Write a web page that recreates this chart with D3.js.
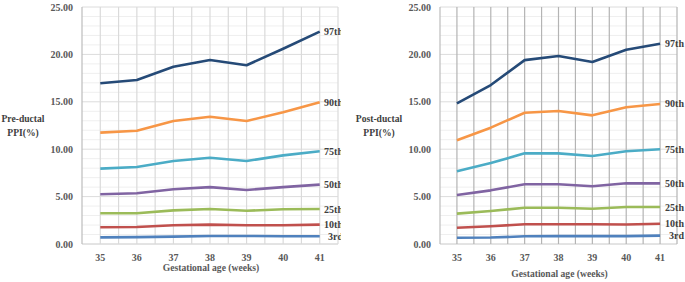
<!DOCTYPE html>
<html lang="en">
<head>
    <meta charset="UTF-8">
    <title>PPI percentiles by gestational age</title>
    <script src="https://d3js.org/d3.v7.min.js"></script>
    <style>
        body { margin: 0; background: #fff; }
        svg text { font-family: "Liberation Serif", "Times New Roman", serif; font-weight: bold; }
    </style>
</head>
<body>
    <svg id="chart" width="685" height="282"></svg>
    <script>
        // data
        const weeks = [35, 36, 37, 38, 39, 40, 41];
        const percentiles = ["97th", "90th", "75th", "50th", "25th", "10th", "3rd"];
        const colors = ["#254a77", "#f79646", "#4bacc6", "#8064a2", "#9bbb59", "#c0504d", "#4f81bd"];
        const yTicks = [0, 5, 10, 15, 20, 25];

        const preDuctal = [
            [16.95, 17.3, 18.7, 19.4, 18.85, 20.6, 22.4],
            [11.75, 11.95, 12.97, 13.43, 12.97, 13.9, 14.95],
            [7.95, 8.12, 8.76, 9.1, 8.76, 9.35, 9.78],
            [5.24, 5.35, 5.77, 6.0, 5.7, 6.0, 6.26],
            [3.24, 3.24, 3.55, 3.69, 3.5, 3.67, 3.69],
            [1.76, 1.8, 1.97, 2.04, 1.97, 1.97, 2.04],
            [0.7, 0.72, 0.78, 0.85, 0.85, 0.82, 0.82]
        ];
        const postDuctal = [
            [14.84, 16.77, 19.4, 19.83, 19.2, 20.5, 21.13],
            [10.94, 12.27, 13.85, 14.03, 13.57, 14.42, 14.77],
            [7.67, 8.54, 9.56, 9.56, 9.28, 9.78, 9.99],
            [5.17, 5.66, 6.3, 6.3, 6.09, 6.4, 6.4],
            [3.2, 3.48, 3.83, 3.83, 3.72, 3.9, 3.9],
            [1.72, 1.87, 2.08, 2.08, 2.08, 2.05, 2.14],
            [0.66, 0.68, 0.81, 0.83, 0.83, 0.83, 0.88]
        ];

        const svg = d3.select("#chart");

        const panels = [
            { data: preDuctal, title: ["Pre-ductal", "PPI(%)"], left: 82, right: 338, titleX: 23,
              xTitleY: 267.5, labelEnd: 343, clip: 341, vGrid: "#dadada" },
            { data: postDuctal, title: ["Post-ductal", "PPI(%)"], left: 440, right: 677, titleX: 379,
              xTitleY: 274, labelEnd: 684, clip: 685, vGrid: "#b4b4b4" }
        ];

        panels.forEach((p, pi) => {
            const g = svg.append("g");
            const x = d3.scaleBand().domain(weeks).range([p.left, p.right]).padding(0);
            const y = d3.scaleLinear().domain([0, 25]).range([244, 7]);

            // minor horizontal grid
            g.append("g").selectAll("line")
                .data(d3.range(0, 26).filter(v => v % 5 !== 0))
                .join("line")
                .attr("x1", p.left).attr("x2", p.right)
                .attr("y1", d => y(d)).attr("y2", d => y(d))
                .attr("stroke", "#efefef").attr("stroke-width", 1);

            // major horizontal grid
            g.append("g").selectAll("line")
                .data(yTicks)
                .join("line")
                .attr("x1", p.left).attr("x2", p.right)
                .attr("y1", d => y(d)).attr("y2", d => y(d))
                .attr("stroke", d => d === 0 ? "#c8c8c8" : "#dcdcdc").attr("stroke-width", 1);

            // vertical grid: band edges and centres
            const vx = [];
            weeks.forEach(w => { vx.push(x(w)); vx.push(x(w) + x.bandwidth() / 2); });
            vx.push(p.right);
            g.append("g").selectAll("line")
                .data(vx)
                .join("line")
                .attr("x1", d => d).attr("x2", d => d)
                .attr("y1", y(25)).attr("y2", y(0))
                .attr("stroke", (d, i) => i === 0 ? "#bdbdbd" : p.vGrid).attr("stroke-width", 1.2);

            // y tick labels
            g.append("g").selectAll("text")
                .data(yTicks)
                .join("text")
                .attr("x", p.left - 9).attr("y", d => y(d))
                .attr("dy", "0.35em").attr("text-anchor", "end")
                .attr("font-size", 10).attr("fill", "#595959")
                .text(d => d3.format(".2f")(d));

            // x tick labels
            g.append("g").selectAll("text")
                .data(weeks)
                .join("text")
                .attr("x", d => x(d) + x.bandwidth() / 2).attr("y", 257)
                .attr("dy", "0.35em").attr("text-anchor", "middle")
                .attr("font-size", 10).attr("fill", "#595959")
                .text(d => d);

            g.append("text")
                .attr("x", (p.left + p.right) / 2 + 1).attr("y", p.xTitleY)
                .attr("dy", "0.35em").attr("text-anchor", "middle")
                .attr("font-size", 9.6).attr("fill", "#595959")
                .text("Gestational age (weeks)");

            g.append("text")
                .attr("x", p.titleX).attr("y", 119)
                .attr("text-anchor", "middle").attr("font-size", 9.6).attr("fill", "#404040")
                .selectAll("tspan")
                .data(p.title)
                .join("tspan")
                .attr("x", p.titleX).attr("dy", (d, i) => i === 0 ? "0.35em" : "1.4em")
                .text(d => d);

            const line = d3.line()
                .x((d, i) => x(weeks[i]) + x.bandwidth() / 2)
                .y(d => y(d));

            g.append("g").selectAll("path")
                .data(p.data)
                .join("path")
                .attr("d", line)
                .attr("fill", "none")
                .attr("stroke", (d, i) => colors[i])
                .attr("stroke-width", 2.6)
                .attr("stroke-linejoin", "round");

            // series labels (left panel is cut at its edge)
            svg.append("clipPath").attr("id", "clip" + pi)
                .append("rect").attr("x", 0).attr("y", 0).attr("width", p.clip).attr("height", 282);
            g.append("g").attr("clip-path", `url(#clip${pi})`)
                .selectAll("text")
                .data(p.data)
                .join("text")
                .attr("x", p.labelEnd).attr("y", d => y(d[d.length - 1]))
                .attr("dy", "0.35em").attr("text-anchor", "end")
                .attr("font-size", 10).attr("fill", "#404040")
                .text((d, i) => percentiles[i]);
        });
    </script>
</body>
</html>
